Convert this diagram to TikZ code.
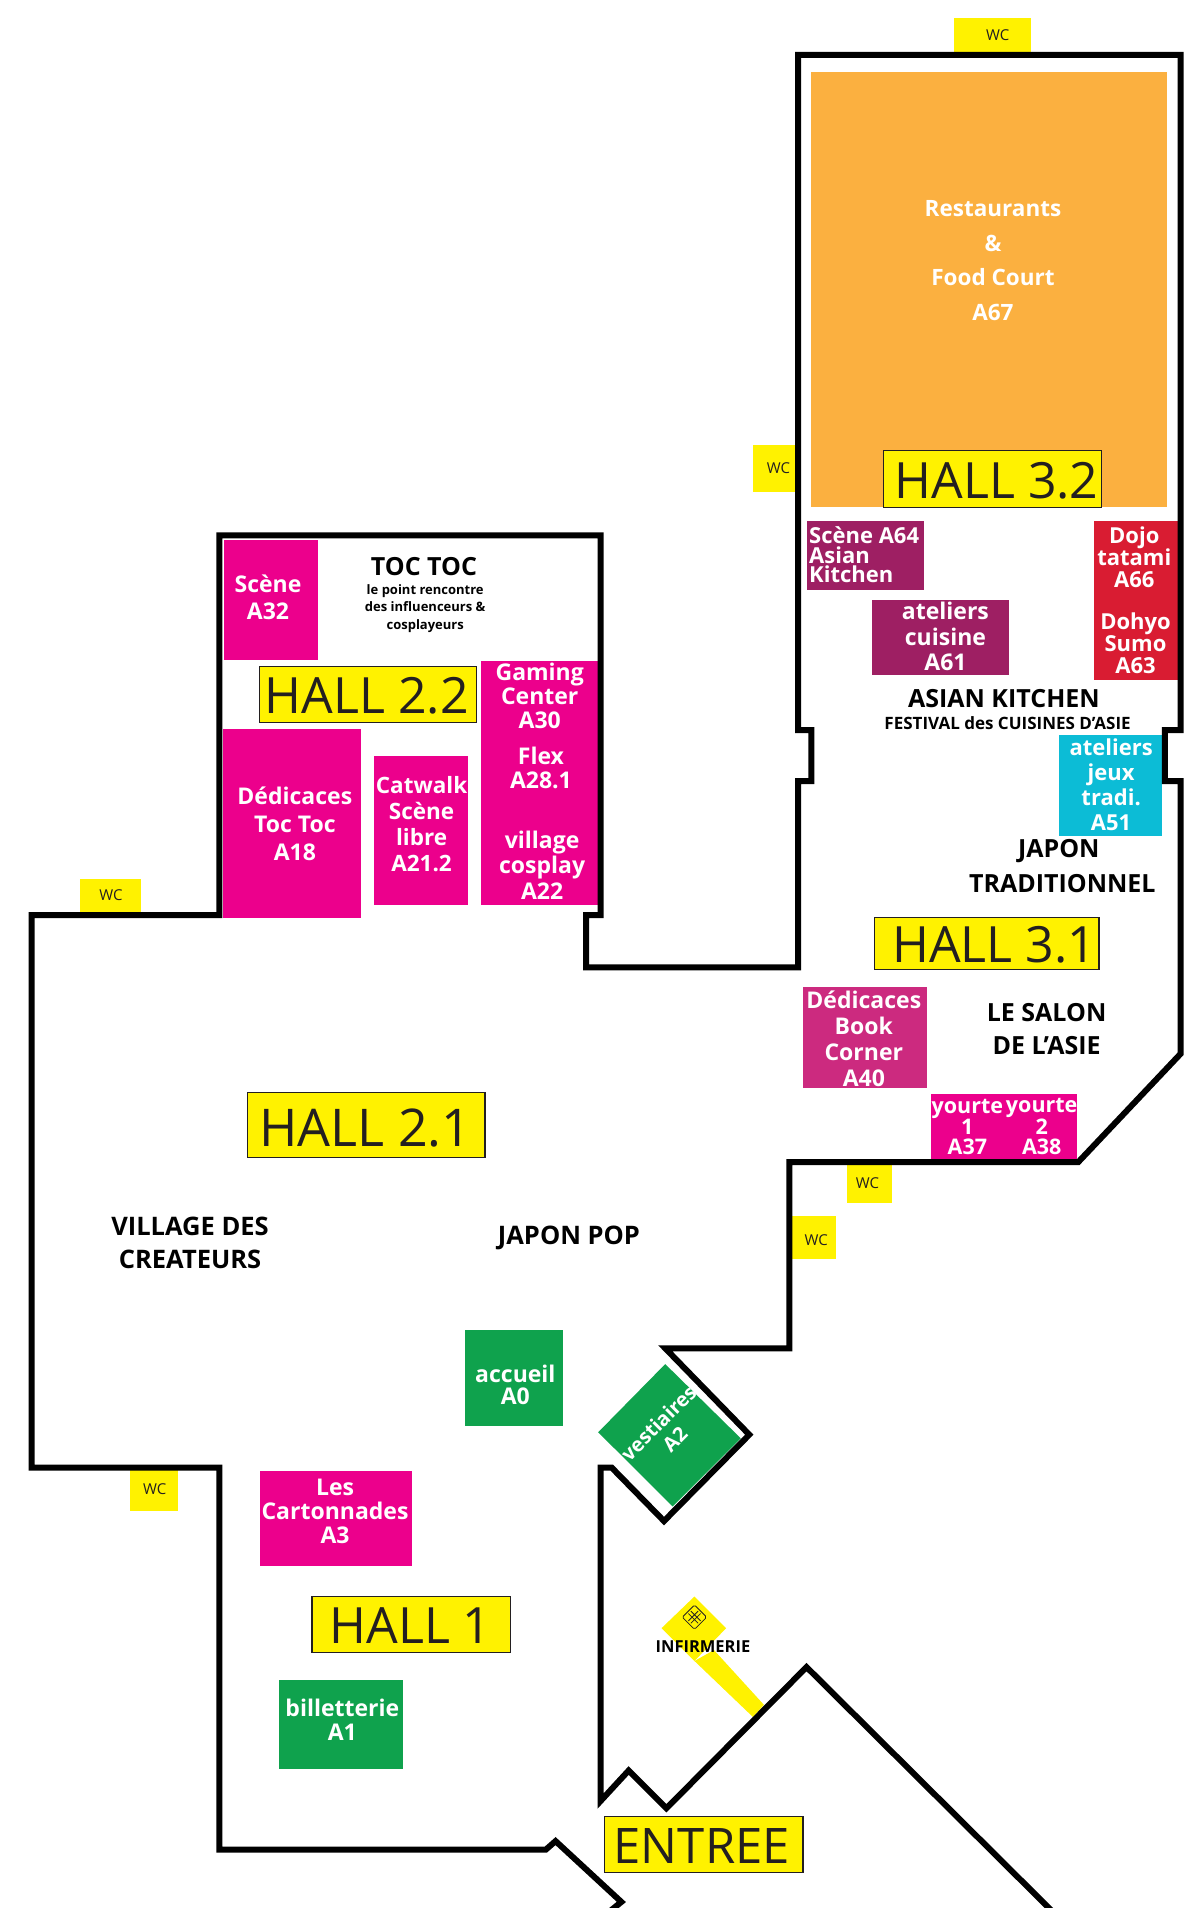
\documentclass[tikz,border=0pt]{standalone}
\usepackage{fontspec}
\setmainfont{Open Sans}
\definecolor{zpink}{HTML}{EC008C}
\definecolor{zrose}{HTML}{CC2A7F}
\definecolor{zorange}{HTML}{FBB040}
\definecolor{zplum}{HTML}{9E1F63}
\definecolor{zred}{HTML}{D91C32}
\definecolor{zcyan}{HTML}{0CBCD6}
\definecolor{zgreen}{HTML}{0FA24D}
\definecolor{zyellow}{HTML}{FFF200}
\definecolor{zink}{HTML}{231F20}
\tikzset{
    wall/.style={line width=6pt,miter limit=10},
    hallbox/.style={fill=zyellow,draw=zink,line width=1.3pt},
    lab/.style 2 args={text=white,align=center,inner sep=0pt,font=\bfseries\fontsize{#1}{#2}\selectfont},
    blk/.style 2 args={text=black,align=center,inner sep=0pt,font=\bfseries\fontsize{#1}{#2}\selectfont},
    hall/.style={text=zink,inner sep=0pt,font=\fontsize{#1}{#1}\selectfont},
    wclab/.style={text=zink,inner sep=0pt,font=\fontsize{15}{15}\selectfont}
}
\begin{document}
\begin{tikzpicture}[x=1.2183pt,y=-1.2168pt]
    \clip (1,0) rectangle (986,1568);
    % zones
    \fill[zorange] (667,59) rectangle (959,417);
    \fill[zplum] (663,428) rectangle (759,485);
    \fill[zplum] (717,493) rectangle (829,555);
    \fill[zred] (899,428) rectangle (969,559);
    \fill[zcyan] (870,604) rectangle (955,687);
    \fill[zrose] (660,811) rectangle (762,894);
    \foreach \xa/\ya/\xb/\yb in {185/444/262/542,184/599/297/754,308/621/385/744,396/543/493/744,765/899/885/955,214/1209/339/1287}{
        \fill[zpink] (\xa,\ya) rectangle (\xb,\yb);
    }
    \foreach \xa/\ya/\xb/\yb in {383/1093/463/1172,230/1381/332/1454}{
        \fill[zgreen] (\xa,\ya) rectangle (\xb,\yb);
    }
    \fill[zgreen] (547,1121)--(609,1182)--(553,1238)--(492,1177)--cycle;
    % infirmerie
    \fill[zyellow] (587,1356)--(628,1401)--(619,1411)--(571,1365)--cycle;
    \fill[zyellow] (571,1312)--(597,1338)--(571,1365)--(544,1338)--cycle;
    \begin{scope}[shift={(571,1329)},draw=zink,line width=0.8pt]
        \draw[rounded corners=1.5pt] (0,-10)--(10,0)--(0,10)--(-10,0)--cycle;
        \draw (-3,-5)--(5,3) (-5,-3)--(3,5) (3,-5)--(-5,3) (5,-3)--(-3,5);
    \end{scope}
    % WC
    \foreach \xa/\ya/\xb/\yb/\tx/\ty/\nm in {784/15/847/43/820/29/wca,619/366/654/404/640/385/wcb,67/722/117/750/92/736/wcc,696/957/733/989/713/972/wcd,651/999/687/1035/671/1019/wce,108/1208/147/1242/128/1224/wcf}{
        \fill[zyellow] (\xa,\ya) rectangle (\xb,\yb);
        \node[wclab] (\nm) at (\tx,\ty) {WC};
    }
    % walls
    \draw[wall] (495,1576)--(511,1563)--(457,1513)--(449,1520)--(181,1520)--(181,1206)--(27,1206)
        --(27,752)--(181,752)--(181,440)--(494,440)--(494,752)--(482,752)--(482,795)--(656,795)
        --(656,642)--(667,642)--(667,600)--(656,600)--(656,45)--(970,45)--(970,600)--(957,600)
        --(957,642)--(970,642)--(970,866)--(886,955)--(649,955)--(649,1108)--(547,1108)
        --(616,1179)--(546,1250)--(503,1206)--(494,1206)--(494,1480)--(517,1455)--(548,1486)
        --(663,1370)--(872,1578);
    % halls
    \draw[hallbox] (726,370) rectangle (905,417);
    \node[hall=50] (hallb) at (819,395) {HALL 3.2};
    \draw[hallbox] (214,548) rectangle (392,594);
    \node[hall=50] (halla) at (302,572) {HALL 2.2};
    \draw[hallbox] (719,754) rectangle (903,797);
    \node[hall=50] (hallc) at (817,776) {HALL 3.1};
    \draw[hallbox] (204,898) rectangle (399,951);
    \node[hall=52] (halld) at (301,927) {HALL 2.1};
    \draw[hallbox] (257,1312) rectangle (420,1358);
    \node[hall=50] (halle) at (338,1336) {HALL 1};
    \draw[hallbox] (497,1493) rectangle (660,1539);
    \node[hall=49] (entree) at (577,1517) {ENTREE};
    % stands
    \node[lab={22.5}{34.5}] (a67) at (816,214) {Restaurants\\\&\\Food Court\\A67};
    \node[lab={22}{19.5},align=left,anchor=west] (a64) at (665,456) {Scène A64\\Asian\\Kitchen};
    \node[lab={23}{25.5}] (a61) at (777,523) {ateliers\\cuisine\\A61};
    \node[lab={22}{22}] (a66) at (932,458) {Dojo\\tatami\\A66};
    \node[lab={22}{22}] (a63) at (933,529) {Dohyo\\Sumo\\A63};
    \node[lab={22}{25}] (a51) at (913,645) {ateliers\\jeux\\tradi.\\A51};
    \node[lab={23}{26}] (a40) at (710,854) {Dédicaces\\Book\\Corner\\A40};
    \node[lab={21.5}{20}] (a37) at (795,926) {yourte\\1\\A37};
    \node[lab={21.5}{20}] (a38) at (856,926) {yourte\\2\\A38};
    \node[lab={23}{27}] (a32) at (221,491) {Scène\\A32};
    \node[lab={23}{24}] (a30) at (444,572) {Gaming\\Center\\A30};
    \node[lab={23}{24.5}] (a28) at (445,631) {Flex\\A28.1};
    \node[lab={23}{25.5}] (a22) at (446,711) {village\\cosplay\\A22};
    \node[lab={22.5}{26}] (a212) at (347,677) {Catwalk\\Scène\\libre\\A21.2};
    \node[lab={23}{28}] (a18) at (243,677) {Dédicaces\\Toc Toc\\A18};
    \node[lab={23}{22}] (a0) at (424,1138) {accueil\\A0};
    \node[lab={20}{23},rotate=45] (a2) at (548,1176) {vestiaires\\A2};
    \node[lab={23}{24.3}] (a3) at (276,1242) {Les\\Cartonnades\\A3};
    \node[lab={23}{24}] (a1) at (282,1413) {billetterie\\A1};
    % secteurs
    \node[blk={25}{25}] (toc) at (349,466) {TOC TOC};
    \node[blk={13}{17.5}] (tocsub) at (350,500) {le point rencontre\\des influenceurs \&\\cosplayeurs};
    \node[blk={25}{25}] (asian) at (825,574) {ASIAN KITCHEN};
    \node[blk={17}{17}] (festival) at (828,594) {FESTIVAL des CUISINES D’ASIE};
    \node[blk={25}{25}] (japont) at (870,699) {JAPON};
    \node[blk={25}{25}] (tradit) at (873,726) {TRADITIONNEL};
    \node[blk={25}{33}] (salon) at (860,846) {LE SALON\\DE L’ASIE};
    \node[blk={25.5}{33}] (village) at (157,1021) {VILLAGE DES\\CREATEURS};
    \node[blk={25.5}{25.5}] (japonp) at (468,1017) {JAPON POP};
    \node[text=zink,blk={16.5}{16.5}] (infirm) at (578,1353) {INFIRMERIE};
\end{tikzpicture}
\end{document}
